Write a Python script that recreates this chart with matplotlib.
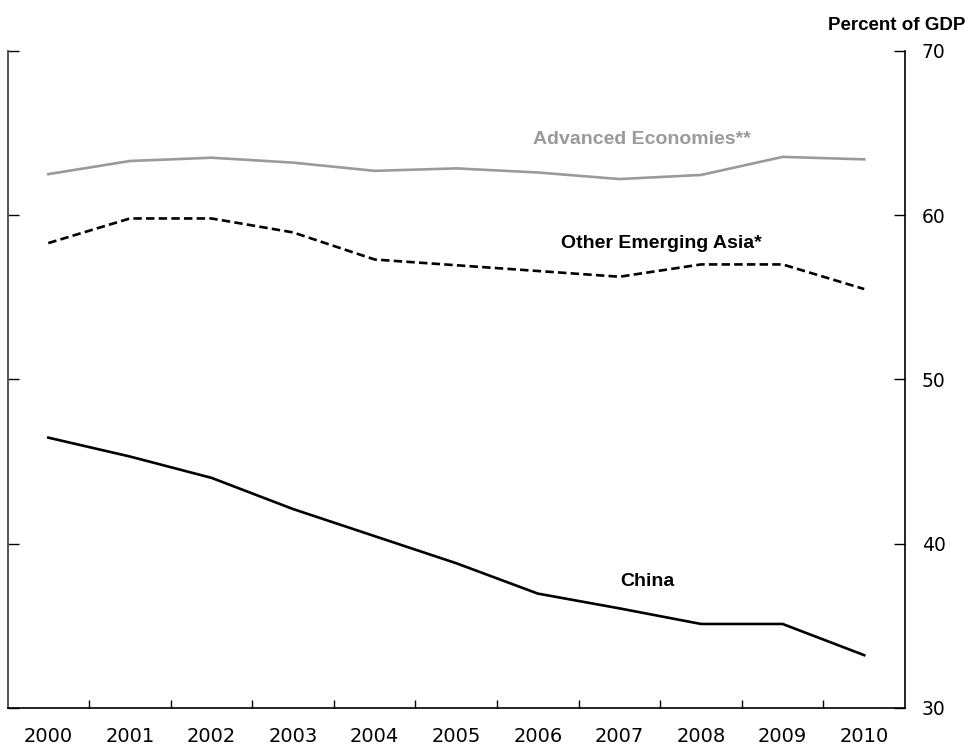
import matplotlib
matplotlib.use("Agg")
import matplotlib.pyplot as plt
import numpy as np

years = ["2000", "2001", "2002", "2003", "2004", "2005", "2006", "2007", "2008", "2009", "2010"]
advanced = [62.5, 63.3, 63.5, 63.2, 62.7, 62.85, 62.6, 62.2, 62.45, 63.55, 63.4]
other_asia = [58.3, 59.8, 59.8, 58.95, 57.3, 56.95, 56.6, 56.25, 57.0, 57.0, 55.5]
china = [46.45, 45.3, 44.0, 42.1, 40.45, 38.8, 36.95, 36.05, 35.1, 35.1, 33.2]
yticks = [30, 40, 50, 60, 70]

plt.rcParams["font.family"] = ["Liberation Sans", "DejaVu Sans"]
tick_font = ["DejaVu Sans"]

fig = plt.figure(figsize=(9.68, 7.47), dpi=100)
ax = fig.add_axes([7.5/968, 1-707.7/747, (905-7.5)/968, (707.7-51)/747])

x = np.arange(len(years))
ax.plot(x, advanced, color="#9a9a9a", lw=1.9, solid_joinstyle="round")
ax.plot(x, other_asia, color="black", lw=1.9, linestyle=(0, (3.2, 1.6)))
ax.plot(x, china, color="black", lw=1.9, solid_joinstyle="round")

ax.set_xlim(-0.5, len(years) - 0.5)
ax.set_ylim(30, 70)

ax.yaxis.tick_right()
ax.set_yticks(yticks)
ax.set_yticklabels([str(v) for v in yticks], fontsize=13.5, family=tick_font)
ax.tick_params(axis="y", which="major", direction="in", length=8, width=1,
               left=True, right=True, labelleft=False, labelright=True, pad=12)

ax.set_xticks(x)
ax.set_xticklabels(years, fontsize=14, family=tick_font)
ax.tick_params(axis="x", which="major", length=0, pad=14)
ax.set_xticks(x[:-1] + 0.5, minor=True)
ax.tick_params(axis="x", which="minor", direction="in", length=6, width=1)

ax.spines["top"].set_visible(False)
ax.spines["left"].set_color("#555555")
ax.spines["left"].set_linewidth(1.4)
for s in ["right", "bottom"]:
    ax.spines[s].set_color("black")
    ax.spines[s].set_linewidth(1.2)

fig.text(642/968, 1-139/747, "Advanced Economies**", color="#9a9a9a", fontsize=14,
         weight="bold", ha="center", va="center")
fig.text(661/968, 1-243/747, "Other Emerging Asia*", color="black", fontsize=14,
         weight="bold", ha="center", va="center")
fig.text(647/968, 1-582/747, "China", color="black", fontsize=14,
         weight="bold", ha="center", va="center")
fig.text(965/968, 1-25/747, "Percent of GDP", color="black", fontsize=13.5,
         weight="bold", ha="right", va="center")

fig.savefig("out.png", dpi=100)
